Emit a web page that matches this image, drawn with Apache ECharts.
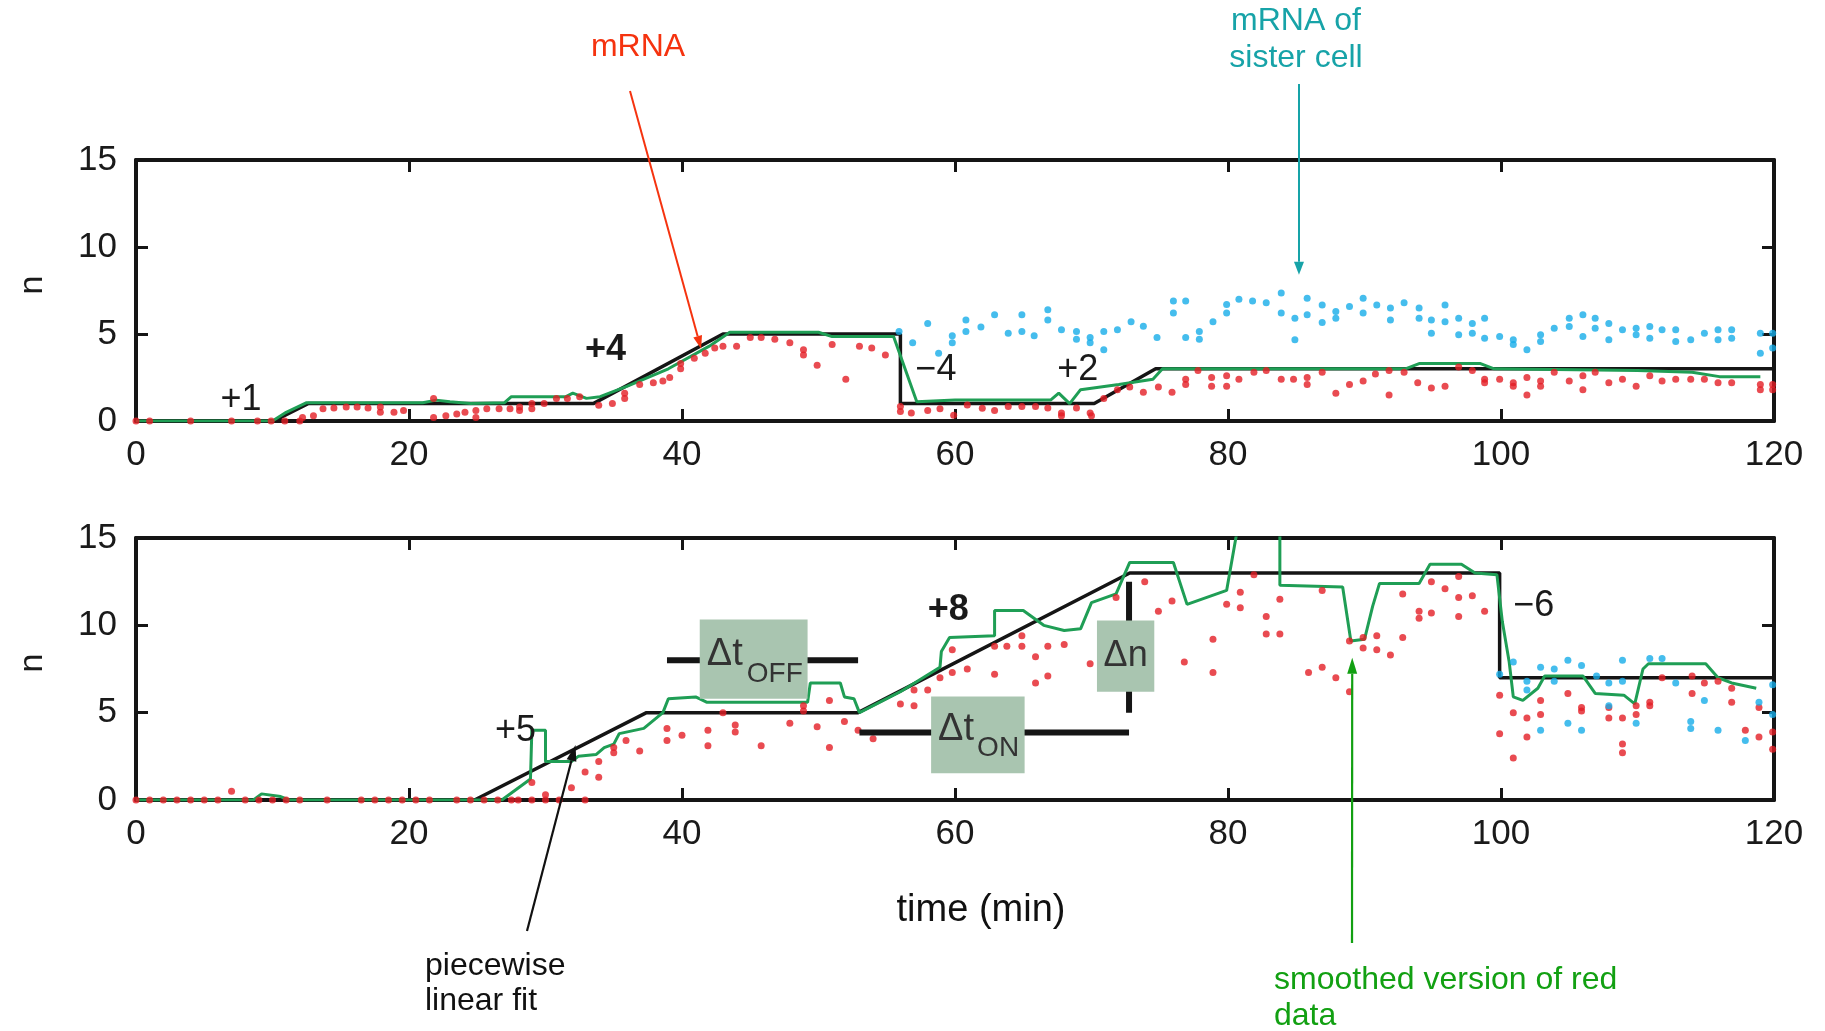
<!DOCTYPE html>
<html>
<head>
<meta charset="utf-8">
<style>
  html, body { margin: 0; padding: 0; background: #fff; }
  #main { width: 1825px; height: 1031px; }
</style>
<script src="https://cdn.jsdelivr.net/npm/echarts@6/dist/echarts.min.js"></script>
</head>
<body>
<div id="main"></div>
<script>
// time (min) ticks and n ticks
const xTicks = [0, 20, 40, 60, 80, 100, 120];
const yTicks = [0, 5, 10, 15];

// upper panel: piecewise linear fit, smoothed red data, mRNA, sister-cell mRNA
const topFit = [[0,0],[10.1,0],[12.6,1],[33.5,1],[43,5],[56,5],[56,1],[70.2,1],[74.7,3],[120,3]];
const topSmooth = [[0,0],[10,0],[11,0.5],[12.5,1.05],[21,1.05],[22,1.2],[23,1.1],[24.5,1.0],[27,1.05],[27.5,1.4],[31.5,1.4],[32,1.6],[33,1.3],[34,1.4],[36,2.0],[39,3.0],[42,4.3],[43.5,5.1],[50,5.1],[51,4.85],[55.5,4.85],[57.2,1.1],[60,1.2],[67,1.2],[67.6,1.6],[68.4,1.0],[69.2,1.8],[72,2.1],[74.5,2.4],[75.2,3.0],[93,3.0],[94,3.3],[98.5,3.3],[99.5,3.0],[110,2.9],[114,2.8],[116,2.55],[119,2.55]];
const topRed = [[0,0],[1,0],[4,0],[7,0],[8.9,0],[9.9,0],[10.9,0],[12,0],[12.2,0.2],[13,0.3],[13.7,0.7],[14.5,0.75],[15.4,0.8],[16.2,0.8],[17,0.75],[17.9,0.5],[17.9,0.8],[18.9,0.5],[19.6,0.6],[21.8,1.3],[21.8,0.2],[22.7,0.3],[23.5,0.4],[24.1,0.5],[24.9,0.6],[24.9,0.2],[25.7,0.7],[26.6,0.7],[27.4,0.7],[28.1,0.8],[28.1,0.6],[29,1.0],[29,0.7],[29.9,1.0],[30.8,1.3],[31.6,1.3],[32.5,1.4],[33.9,0.9],[34.9,1.0],[35.8,1.3],[35.8,1.6],[36.9,2.1],[37.9,2.2],[38.6,2.3],[39.1,2.5],[39.9,3.0],[39.9,3.3],[40.9,3.6],[41.7,3.9],[42.4,4.2],[43,4.3],[44,4.3],[45,4.8],[45.8,4.8],[46.8,4.7],[47.9,4.5],[48.9,4.1],[48.9,3.8],[49.9,3.2],[51,4.4],[52,2.4],[53,4.3],[53.9,4.2],[54.9,3.8],[56,0.84],[56,0.55],[56.8,0.46],[58,0.6],[58.9,0.7],[59.9,0.33],[60.9,0.92],[62,0.73],[62.9,0.6],[63.9,0.84],[64.9,0.84],[65.9,0.84],[66.8,0.75],[67.8,0.46],[67.8,0.3],[68.9,0.75],[69.9,0.46],[70,0.3],[70.9,1.3],[71.9,1.8],[72.8,1.95],[73.8,1.65],[74.9,1.95],[75.9,1.65],[76.9,2.4],[76.9,2.1],[77.8,2.9],[78.8,2.5],[78.8,2.0],[79.9,2.6],[79.9,2.0],[80.8,2.4],[81.9,2.8],[82.8,2.9],[83.9,2.4],[84.8,2.4],[85.8,2.5],[85.8,2.1],[86.9,2.8],[87.9,1.6],[88.9,2.1],[89.9,2.3],[90.8,2.7],[91.8,2.9],[91.8,1.5],[92.9,2.8],[93.9,2.2],[94.9,1.9],[95.9,2.0],[96.9,3.1],[97.9,2.9],[98.8,2.4],[98.8,2.2],[99.9,2.4],[100.9,2.2],[100.9,2.0],[101.9,2.5],[101.9,1.5],[102.9,2.3],[102.9,2.0],[103.9,2.8],[105,2.3],[106,2.6],[106,1.8],[106.9,2.8],[107.9,2.2],[108.9,2.4],[109.9,2.0],[110.9,2.6],[111.8,2.3],[112.8,2.4],[113.9,2.4],[114.9,2.4],[115.9,2.2],[116.9,2.2],[119,2.1],[119,1.8],[119.9,2.1],[119.9,1.8]];
const topBlue = [[55.9,5.15],[56.9,4.5],[58,5.6],[58.8,3.9],[59.8,4.9],[59.8,4.5],[60.8,5.8],[60.8,5.15],[61.9,5.4],[62.9,6.1],[63.9,5.05],[64.9,6.1],[64.9,5.15],[65.8,4.9],[66.8,6.4],[66.8,5.8],[67.8,5.25],[68.9,5.15],[68.9,4.7],[69.9,4.8],[69.9,4.5],[70.9,5.15],[70.9,4.1],[71.9,5.25],[72.9,5.7],[73.8,5.45],[74.8,4.8],[76,6.9],[76,6.2],[76.9,6.9],[76.9,4.8],[77.9,5.15],[77.9,4.7],[78.9,5.7],[79.9,6.7],[79.9,6.2],[80.8,7.0],[81.8,6.9],[82.8,6.8],[83.9,7.35],[83.9,6.2],[84.9,5.9],[84.9,4.67],[85.8,7.05],[85.8,6.1],[86.9,6.67],[86.9,5.66],[87.9,6.3],[87.9,5.9],[88.9,6.58],[89.9,7.05],[89.9,6.2],[90.9,6.67],[91.9,6.5],[91.9,5.8],[92.9,6.8],[94,6.5],[94,5.9],[94.9,5.8],[94.9,5.05],[95.9,6.67],[95.9,5.7],[96.9,5.9],[96.9,4.95],[97.9,5.6],[97.9,5.05],[98.8,5.9],[98.8,4.76],[99.9,4.86],[100.9,4.67],[100.9,4.4],[101.9,4.1],[102.9,4.95],[102.9,4.57],[103.9,5.33],[105,5.9],[105,5.43],[106,6.1],[106,4.86],[106.9,5.9],[106.9,5.33],[107.9,5.6],[107.9,4.67],[108.9,5.24],[109.9,5.33],[109.9,4.95],[110.9,5.43],[110.9,4.76],[111.8,5.24],[112.8,5.24],[112.8,4.57],[113.9,4.67],[114.9,5.05],[115.9,5.24],[115.9,4.67],[116.9,5.24],[116.9,4.76],[119,5.05],[119,3.9],[119.9,5.05],[119.9,4.2]];

// lower panel
const botFit = [[0,0],[24.8,0],[37.4,5],[52.9,5],[72.8,13],[99.9,13],[99.9,7],[120,7]];
const botSmooth = [[0,0],[8.6,0],[9.2,0.35],[10.6,0.2],[11.2,0],[26.8,0],[28.9,1.2],[29,4.0],[30,4.0],[30,2.2],[31.9,2.2],[32.4,2.5],[33.7,2.6],[34.3,3.0],[35,3.2],[35.4,3.8],[37.2,4.1],[38.6,5.0],[39,5.8],[41,5.9],[41.8,5.6],[49.2,5.6],[49.4,6.7],[51.6,6.7],[51.9,5.9],[52.6,5.8],[53,5.0],[56,6.2],[58.9,7.6],[59,8.5],[59.6,9.3],[62.9,9.4],[62.9,10.85],[65,10.85],[66.5,10.0],[68,9.7],[69.2,9.8],[70,11.3],[71.8,11.8],[72.8,13.6],[76,13.6],[77,11.2],[79.9,12.0],[80.8,16],[83.8,16],[83.8,12.3],[88.4,12.2],[89,9.1],[90,9.2],[90.6,11.1],[91.1,12.4],[94,12.4],[94.8,13.5],[97.1,13.5],[98.1,13.0],[99.7,12.9],[100.1,10.2],[100.6,7.9],[100.9,5.9],[101.6,5.7],[102.7,6.4],[103.2,7.1],[106,7.1],[106.9,6.1],[109,6.0],[109.8,5.5],[110.4,7.5],[110.8,7.8],[115,7.8],[115.9,7.0],[116.9,6.7],[118.7,6.4]];
const botRed = [[0,0],[1,0],[2,0],[3,0],[4,0],[5,0],[6,0],[7,0.5],[8,0],[9,0],[10,0],[11,0],[12,0],[14,0],[16.5,0],[17.5,0],[18.5,0],[19.5,0],[20.5,0],[21.5,0],[23.5,0],[24.5,0],[25.5,0],[26.5,0],[27.5,0],[28,0],[29,1.0],[29,0],[30,0.3],[30,0],[31,0],[31.9,0.7],[32.9,1.6],[32.9,0],[33.9,2.2],[33.9,1.3],[35,3.0],[35,2.7],[35.9,3.4],[36.9,2.8],[38.9,4.1],[38.9,3.4],[40,3.7],[41.9,4.0],[41.9,3.1],[43,5.0],[43.9,4.3],[43.9,3.9],[45.8,3.1],[47.9,4.4],[48.9,5.4],[48.9,5.1],[49.9,4.2],[50.8,5.7],[50.8,3.0],[51.9,4.5],[52.9,4.0],[54,3.5],[56,5.5],[57,5.4],[57,6.3],[58,6.3],[58.9,7.0],[59.8,8.6],[59.8,7.3],[60.9,7.5],[62.9,8.8],[62.9,7.2],[63.8,8.8],[64.9,9.4],[64.9,8.8],[65.9,8.2],[65.9,6.7],[66.8,8.8],[66.8,7.1],[68,8.9],[69.9,7.8],[71.8,11.6],[73.9,12.5],[74.9,10.8],[75.9,11.4],[76.8,7.9],[78.9,9.2],[78.9,7.3],[79.9,11.2],[80.9,11.9],[80.9,11.0],[81.9,12.9],[82.8,10.5],[82.8,9.5],[83.8,11.5],[83.8,9.5],[85.9,7.3],[86.9,12.0],[86.9,7.6],[87.9,7.0],[88.9,9.1],[88.9,6.2],[89.9,9.3],[89.9,8.7],[90.9,9.4],[90.9,8.6],[91.9,8.3],[92.8,11.8],[92.8,9.3],[94,10.8],[94,10.4],[94.9,12.5],[94.9,10.7],[95.9,12.1],[96.9,12.8],[96.9,11.6],[96.9,10.5],[97.9,11.7],[98.8,10.8],[99.9,6.0],[99.9,3.8],[100.9,5.0],[100.9,2.4],[101.9,4.7],[101.9,3.6],[102.9,5.7],[102.9,4.9],[104.9,6.1],[105.9,5.3],[105.9,5.1],[107.9,5.3],[107.9,4.7],[108.9,4.7],[108.9,3.2],[108.9,2.7],[109.9,5.4],[109.9,4.9],[110.9,5.6],[110.9,5.4],[111.8,7.0],[114,7.1],[114,6.1],[114.9,6.7],[115.9,6.8],[116.9,6.4],[116.9,5.6],[117.9,4.0],[118.9,3.6],[118.9,5.3],[119.9,3.9],[119.9,2.9]];
const botBlue = [[99.9,7.2],[100.9,7.9],[101.9,6.8],[101.9,6.3],[102.9,7.6],[102.9,4.0],[103.9,7.5],[103.9,6.8],[104.9,8.0],[104.9,4.4],[105.9,7.7],[105.9,4.0],[107,7.1],[107.9,6.7],[107.9,5.4],[108.9,8.0],[108.9,6.8],[109.9,4.4],[110.9,8.1],[111.8,8.1],[112.8,6.7],[113.9,4.5],[113.9,4.1],[114.9,5.7],[115.9,4.0],[117.9,3.4],[118.9,5.6],[119.9,6.6],[119.9,4.9]];

// step sizes written next to the fit
const topSteps = [['+1',7.7,1.2,'normal'],['+4',34.4,4.1,'bold'],['\u22124',58.6,2.9,'normal'],['+2',69,2.9,'normal']];
const botSteps = [['+5',27.8,3.95,'normal'],['+8',59.5,10.9,'bold'],['\u22126',102.4,11.1,'normal']];

const FONT = '"Liberation Sans", Arial, Helvetica, sans-serif';
const BLACK = '#151515';

const chart = echarts.init(document.getElementById('main'), null, { renderer: 'canvas' });

function xAxisFor(grid, pos) {
  return {
    gridIndex: grid, type: 'value', position: pos, min: 0, max: 120, interval: 20,
    axisLine: { show: true, onZero: false, lineStyle: { color: BLACK, width: 4 } },
    axisTick: { show: true, inside: true, length: 12, lineStyle: { color: BLACK, width: 3 } },
    axisLabel: { show: pos === 'bottom', margin: 17, fontSize: 35, color: '#1a1a1a', fontFamily: FONT },
    splitLine: { show: false }
  };
}
function yAxisFor(grid, pos) {
  return {
    gridIndex: grid, type: 'value', position: pos, min: 0, max: 15, interval: 5,
    axisLine: { show: true, onZero: false, lineStyle: { color: BLACK, width: 4 } },
    axisTick: { show: true, inside: true, length: 12, lineStyle: { color: BLACK, width: 3 } },
    axisLabel: { show: pos === 'left', margin: 19, fontSize: 35, color: '#1a1a1a', fontFamily: FONT },
    splitLine: { show: false }
  };
}
function fitLine(data, ax) {
  return { type: 'line', data: data, xAxisIndex: ax, yAxisIndex: ax, showSymbol: false, z: 3,
    lineStyle: { color: BLACK, width: 3.5 }, animation: false };
}
function smoothLine(data, ax) {
  return { type: 'line', data: data, xAxisIndex: ax, yAxisIndex: ax, showSymbol: false, z: 4,
    lineStyle: { color: '#1f9e55', width: 3 }, animation: false };
}
function dots(data, ax, color) {
  return { type: 'scatter', data: data, xAxisIndex: ax, yAxisIndex: ax, symbolSize: 7, z: 5,
    itemStyle: { color: color }, animation: false };
}

const option = {
  animation: false,
  grid: [
    { left: 136, right: 51, top: 160, height: 261 },
    { left: 136, right: 51, top: 538, height: 262 }
  ],
  xAxis: [xAxisFor(0, 'bottom'), xAxisFor(0, 'top'), xAxisFor(1, 'bottom'), xAxisFor(1, 'top')],
  yAxis: [yAxisFor(0, 'left'), yAxisFor(0, 'right'), yAxisFor(1, 'left'), yAxisFor(1, 'right')],
  series: [
    fitLine(topFit, 0), smoothLine(topSmooth, 0), dots(topRed, 0, '#e31e25'), dots(topBlue, 0, '#17ade8'),
    fitLine(botFit, 2), smoothLine(botSmooth, 2), dots(botRed, 2, '#e31e25'), dots(botBlue, 2, '#17ade8')
  ]
};
chart.setOption(option);

// annotations
const toTop = (p) => chart.convertToPixel({ xAxisIndex: 0, yAxisIndex: 0 }, p);
const toBot = (p) => chart.convertToPixel({ xAxisIndex: 2, yAxisIndex: 2 }, p);

function text(str, x, y, size, color, opts) {
  opts = opts || {};
  return { type: 'text', x: x, y: y, z: 50, rotation: opts.rotation || 0,
    style: { text: str, fontSize: size, fontFamily: FONT, fill: color, fontWeight: opts.weight || 'normal',
      align: opts.align || 'center', verticalAlign: 'middle' } };
}
function arrow(x1, y1, x2, y2, color, w, hl, hw) {
  const a = Math.atan2(y2 - y1, x2 - x1);
  const bx = x2 - hl * Math.cos(a), by = y2 - hl * Math.sin(a);
  const nx = -Math.sin(a) * hw / 2, ny = Math.cos(a) * hw / 2;
  return [
    { type: 'line', z: 60, shape: { x1: x1, y1: y1, x2: bx, y2: by }, style: { stroke: color, lineWidth: w } },
    { type: 'polygon', z: 60, shape: { points: [[x2, y2], [bx + nx, by + ny], [bx - nx, by - ny]] }, style: { fill: color } }
  ];
}
function bar(p1, p2) {
  return { type: 'line', z: 40, shape: { x1: p1[0], y1: p1[1], x2: p2[0], y2: p2[1] },
    style: { stroke: BLACK, lineWidth: 6 } };
}
function box(p1, p2) {
  return { type: 'rect', z: 45, shape: { x: p1[0], y: p2[1], width: p2[0] - p1[0], height: p1[1] - p2[1] },
    style: { fill: '#a9c5b0' } };
}

const g = [];
topSteps.forEach(s => { const p = toTop([s[1], s[2]]); g.push(text(s[0], p[0], p[1], 36, '#1a1a1a', { weight: s[3] })); });
botSteps.forEach(s => { const p = toBot([s[1], s[2]]); g.push(text(s[0], p[0], p[1], 36, '#1a1a1a', { weight: s[3] })); });

// delta bars and boxes (lower panel)
g.push(bar(toBot([38.9, 8.0]), toBot([52.9, 8.0])));
g.push(bar(toBot([53, 3.87]), toBot([72.75, 3.87])));
g.push(bar(toBot([72.75, 12.5]), toBot([72.75, 5.0])));
const offA = toBot([41.3, 5.8]), offB = toBot([49.2, 10.33]);
const onA = toBot([58.25, 1.53]), onB = toBot([65.1, 5.93]);
const dnA = toBot([70.4, 6.2]), dnB = toBot([74.6, 10.27]);
g.push(box(offA, offB), box(onA, onB), box(dnA, dnB));
g.push(text('\u0394t', offA[0] + 7, offB[1] + 35, 38, '#333', { align: 'left' }));
g.push(text('OFF', offA[0] + 47, offB[1] + 55, 28, '#333', { align: 'left' }));
g.push(text('\u0394t', onA[0] + 7, onB[1] + 33, 38, '#333', { align: 'left' }));
g.push(text('ON', onA[0] + 46, onB[1] + 52, 28, '#333', { align: 'left' }));
g.push(text('\u0394n', (dnA[0] + dnB[0]) / 2, (dnA[1] + dnB[1]) / 2, 36, '#333'));

// axis names
g.push(text('n', 33, 285, 34, '#1a1a1a', { rotation: Math.PI / 2 }));
g.push(text('n', 33, 663, 34, '#1a1a1a', { rotation: Math.PI / 2 }));
g.push(text('time (min)', 981, 911, 38, '#111'));

// callouts
g.push(text('mRNA', 638, 47, 32, '#f5330f'));
const mEnd = toTop([41.4, 4.15]);
g.push(...arrow(630, 91, mEnd[0], mEnd[1], '#f5330f', 2, 13, 9));
g.push(text('mRNA of', 1296, 21, 32, '#17a3a8'));
g.push(text('sister cell', 1296, 58, 32, '#17a3a8'));
const sEnd = toTop([85.2, 8.4]);
g.push(...arrow(1299, 84, sEnd[0], sEnd[1], '#17a3a8', 2, 13, 10));
g.push(text('piecewise', 425, 966, 32, '#111', { align: 'left' }));
g.push(text('linear fit', 425, 1001, 32, '#111', { align: 'left' }));
const fEnd = toBot([32.2, 3.15]);
g.push(...arrow(527, 931, fEnd[0], fEnd[1], '#111', 2.2, 16, 10));
g.push(text('smoothed version of red', 1274, 980, 32, '#12a012', { align: 'left' }));
g.push(text('data', 1274, 1016, 32, '#12a012', { align: 'left' }));
const gEnd = toBot([89.1, 8.15]);
g.push(...arrow(1352, 943, gEnd[0], gEnd[1], '#12a012', 2.2, 16, 10));

chart.setOption({ graphic: g });
</script>
</body>
</html>
